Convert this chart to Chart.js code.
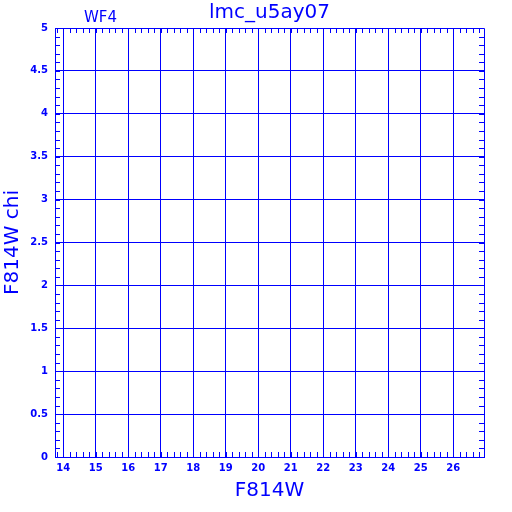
<!DOCTYPE html>
<html>
<head>
<meta charset="utf-8">
<script src="https://cdn.jsdelivr.net/npm/chart.js@4/dist/chart.umd.min.js"></script>
<style>
html,body{margin:0;padding:0;background:#fff;}
#wrap{width:512px;height:512px;}
</style>
</head>
<body>
<div id="wrap"><canvas id="c" width="512" height="512"></canvas></div>
<script>
// ---- data (the reference panel contains no plotted points) ----
const f814wMag = [];
const f814wChi = [];
const xTickValues = [14, 15, 16, 17, 18, 19, 20, 21, 22, 23, 24, 25, 26];
const yTickValues = [0, 0.5, 1, 1.5, 2, 2.5, 3, 3.5, 4, 4.5, 5];
const xRange = [13.75, 26.95];
const yRange = [0, 5];
const chartTitle = 'lmc_u5ay07';
const chipLabel = 'WF4';
const xTitle = 'F814W';
const yTitle = 'F814W chi';

const BLUE = '#0000ff';
const points = f814wMag.map((x, i) => ({x: x, y: f814wChi[i]}));

const minorTicks = {
  id: 'minorTicks',
  afterDraw(chart) {
    const {ctx, chartArea: a, scales: {x, y}} = chart;
    ctx.save();
    ctx.strokeStyle = BLUE;
    ctx.lineWidth = 1;
    ctx.beginPath();
    // frame
    ctx.rect(Math.round(a.left) + 0.5, Math.round(a.top) + 0.5,
             Math.round(a.right) - Math.round(a.left), Math.round(a.bottom) - Math.round(a.top));
    const L = 5;
    for (let k = Math.ceil(x.min / 0.2); k * 0.2 <= x.max + 1e-9; k++) {
      const px = Math.round(x.getPixelForValue(k * 0.2)) + 0.5;
      ctx.moveTo(px, a.bottom); ctx.lineTo(px, a.bottom - L);
      ctx.moveTo(px, a.top); ctx.lineTo(px, a.top + L);
    }
    for (let k = Math.ceil(y.min / 0.1); k * 0.1 <= y.max + 1e-9; k++) {
      const py = Math.round(y.getPixelForValue(k * 0.1)) + 0.5;
      ctx.moveTo(a.left, py); ctx.lineTo(a.left + L, py);
      ctx.moveTo(a.right, py); ctx.lineTo(a.right - L, py);
    }
    ctx.stroke();
    // chip label
    ctx.fillStyle = BLUE;
    ctx.font = '15px "DejaVu Sans"';
    ctx.textAlign = 'center';
    ctx.textBaseline = 'middle';
    ctx.fillText(chipLabel, x.getPixelForValue(15.15), 18);
    ctx.restore();
  }
};

new Chart(document.getElementById('c'), {
  type: 'scatter',
  data: {datasets: [{data: points, backgroundColor: BLUE, borderColor: BLUE, pointRadius: 2}]},
  options: {
    responsive: false,
    animation: false,
    devicePixelRatio: 1,
    layout: {padding: {left: 0, right: 28, top: 0, bottom: 0}},
    plugins: {
      legend: {display: false},
      tooltip: {enabled: false},
      title: {
        display: true, text: chartTitle, color: BLUE, fullSize: false,
        font: {family: 'DejaVu Sans', size: 20, weight: 'normal', lineHeight: 1.2},
        padding: {top: 1, bottom: 3}
      }
    },
    scales: {
      x: {
        type: 'linear', min: xRange[0], max: xRange[1],
        afterBuildTicks: s => { s.ticks = xTickValues.map(v => ({value: v})); },
        afterFit: s => { s.height = 55; },
        grid: {color: BLUE, lineWidth: 1, drawTicks: false},
        border: {color: BLUE, width: 1},
        ticks: {color: BLUE, padding: 5, maxRotation: 0, autoSkip: false,
                font: {family: 'DejaVu Sans', size: 10, weight: 'bold'},
                callback: v => String(v)},
        title: {display: true, text: xTitle, color: BLUE,
                font: {family: 'DejaVu Sans', size: 20, lineHeight: 1.2},
                padding: {top: 0, bottom: 9}}
      },
      y: {
        type: 'linear', min: yRange[0], max: yRange[1],
        afterBuildTicks: s => { s.ticks = yTickValues.map(v => ({value: v})); },
        afterFit: s => { s.width = 55; },
        grid: {color: BLUE, lineWidth: 1, drawTicks: false},
        border: {color: BLUE, width: 1},
        ticks: {color: BLUE, padding: 7, autoSkip: false,
                font: {family: 'DejaVu Sans', size: 10, weight: 'bold'},
                callback: v => String(v)},
        title: {display: true, text: yTitle, color: BLUE,
                font: {family: 'DejaVu Sans', size: 20, lineHeight: 1.2},
                padding: {top: 1, bottom: 0}}
      }
    }
  },
  plugins: [minorTicks]
});
</script>
</body>
</html>
